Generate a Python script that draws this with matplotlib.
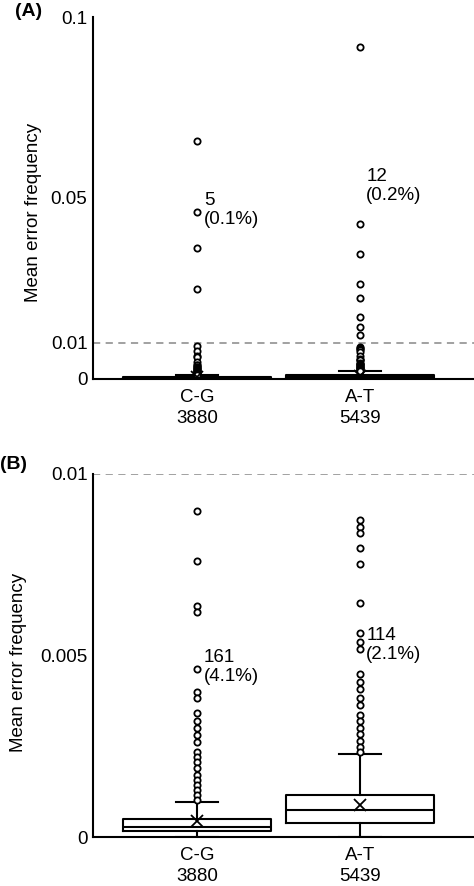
import matplotlib.pyplot as plt

plt.rcParams['font.family'] = ['Liberation Sans', 'DejaVu Sans']

groups = ['C-G', 'A-T']
counts = ['3880', '5439']

q1 = [0.00017, 0.00039]
med = [0.00028, 0.00074]
q3 = [0.0005, 0.00116]
whis_lo = [0.0, 0.0]
whis_hi = [0.00097, 0.0023]
means = [0.00044, 0.00088]

fliers_cg = [0.0657, 0.0462, 0.0363, 0.0248,
             0.00898, 0.0076, 0.00636, 0.00619, 0.00462, 0.0040, 0.00382,
             0.00341, 0.0032, 0.00301, 0.00281, 0.00261, 0.00235, 0.00221,
             0.00207, 0.00189, 0.00171, 0.00157, 0.00143, 0.00129, 0.00116,
             0.00103]
fliers_at = [0.0918, 0.0428, 0.0345, 0.0262, 0.0225, 0.0172, 0.0144, 0.0122,
             0.00873, 0.00855, 0.00837, 0.00795, 0.00752, 0.00644, 0.00563,
             0.00536, 0.00518, 0.00448, 0.00428, 0.00407, 0.00382, 0.00364,
             0.00336, 0.0032, 0.00301, 0.00283, 0.00264, 0.00249, 0.00234]

notes_a = ['5\n(0.1%)', '12\n(0.2%)']
notes_a_y = [0.0466, 0.0533]
notes_b = ['161\n(4.1%)', '114\n(2.1%)']
notes_b_y = [0.00468, 0.00529]

stats = []
for i in range(2):
    stats.append({'q1': q1[i], 'med': med[i], 'q3': q3[i],
                  'whislo': whis_lo[i], 'whishi': whis_hi[i],
                  'mean': means[i],
                  'fliers': [fliers_cg, fliers_at][i]})

fig = plt.figure(figsize=(4.74, 8.86), dpi=100)
ax_a = fig.add_axes([93 / 474, (886 - 379) / 886, 381 / 474, 362 / 886])
ax_b = fig.add_axes([93 / 474, (886 - 837) / 886, 381 / 474, 363 / 886])

FS = 13.5


def draw(ax, ymax, yticks, yticklabels, notes, notes_y, label_xy):
    ax.axhline(0.01, color='#9a9a9a', lw=1.3, ls=(0, (4, 3)), zorder=1)
    ax.bxp(stats, positions=[1, 2], widths=0.91, capwidths=0.26,
           showmeans=True, patch_artist=False,
           boxprops=dict(color='black', lw=1.5),
           medianprops=dict(color='black', lw=1.5),
           whiskerprops=dict(color='black', lw=1.5),
           capprops=dict(color='black', lw=1.5),
           meanprops=dict(marker='x', markersize=8, markeredgecolor='black',
                          markeredgewidth=1.3),
           flierprops=dict(marker='o', markersize=4.5, markerfacecolor='white',
                           markeredgecolor='black', markeredgewidth=1.3))
    ax.set_xlim(0.358, 2.704)
    ax.set_ylim(0, ymax)
    ax.set_yticks(yticks)
    ax.set_yticklabels(yticklabels)
    ax.set_xticks([1, 2])
    ax.set_xticklabels([g + '\n' + c for g, c in zip(groups, counts)],
                       linespacing=1.3)
    ax.tick_params(axis='both', length=0, labelsize=FS)
    ax.tick_params(axis='y', pad=4)
    ax.tick_params(axis='x', pad=7)
    for s in ['top', 'right']:
        ax.spines[s].set_visible(False)
    for s in ['left', 'bottom']:
        ax.spines[s].set_linewidth(1.5)
    ax.set_ylabel('Mean error frequency', fontsize=FS)
    ax.yaxis.set_label_coords(*label_xy)
    for i in range(2):
        ax.text(1.04 + i, notes_y[i], notes[i], fontsize=FS, ha='left',
                va='center', linespacing=1.15)


draw(ax_a, 0.1, [0, 0.01, 0.05, 0.1], ['0', '0.01', '0.05', '0.1'],
     notes_a, notes_a_y, (-0.135, 0.46))
draw(ax_b, 0.01, [0, 0.005, 0.01], ['0', '0.005', '0.01'],
     notes_b, notes_b_y, (-0.174, 0.48))

fig.text(15 / 474, 1 - 11 / 886, '(A)', fontsize=14, fontweight='bold',
         va='center', ha='left')
fig.text(0 / 474, 1 - 465 / 886, '(B)', fontsize=14, fontweight='bold',
         va='center', ha='left')

fig.savefig('out.png', dpi=100)
plt.close()
